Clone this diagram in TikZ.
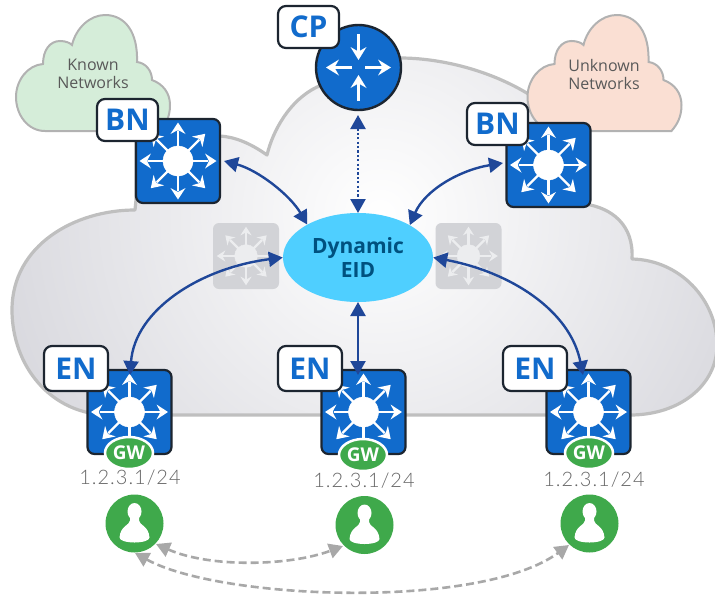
\documentclass[tikz,border=0pt]{standalone}
\usepackage{fontspec}
\setmainfont{Open Sans}
\newfontfamily\ipfont[LetterSpace=5]{Lato Light}
\usetikzlibrary{arrows.meta,shapes.geometric}
\definecolor{swblue}{HTML}{116BCC}
\definecolor{edge}{HTML}{1C2530}
\definecolor{linkblue}{HTML}{1F4799}
\definecolor{gwgreen}{HTML}{3FA94B}
\definecolor{dashgrey}{HTML}{A8A8A8}
\definecolor{fadefill}{RGB}{210,211,215}
\definecolor{fadearrow}{RGB}{236,237,239}
\definecolor{knowncol}{RGB}{213,237,217}
\definecolor{unknowncol}{RGB}{250,223,211}
\definecolor{eidfill}{RGB}{79,207,255}
\definecolor{eidtext}{RGB}{0,81,127}
\definecolor{cloudedge}{RGB}{214,214,220}
\tikzset{
  x=1pt,y=-1pt,
  switchbox/.style={draw=edge,line width=2.2pt,fill=swblue,rounded corners=7pt,minimum size=84pt,inner sep=0pt},
  fadedbox/.style={fill=fadefill,rounded corners=6pt,minimum size=66pt,inner sep=0pt},
  tagbox/.style={draw=edge,line width=2.2pt,fill=white,rounded corners=8pt,inner sep=0pt,text=swblue,font=\fontsize{30}{30}\selectfont\bfseries},
  bluelink/.style={draw=linkblue,line width=2.4pt,{Triangle[length=14pt,width=15pt]}-{Triangle[length=14pt,width=15pt]}},
  greylink/.style={draw=dashgrey,line width=2.6pt,dash pattern=on 8pt off 4pt,{Triangle[length=14pt,width=15pt]}-{Triangle[length=14pt,width=15pt]}},
  cloudtext/.style={text=black!65,align=center,font=\fontsize{16}{18}\selectfont,inner sep=0pt},
  gwnode/.style={draw=white,line width=2.5pt,fill=gwgreen,ellipse,minimum width=48pt,minimum height=32pt,inner sep=0pt,text=white,font=\fontsize{19}{19}\selectfont\bfseries},
  iplabel/.style={text=black!60,font=\fontsize{20}{20}\ipfont,inner sep=0pt},
  usernode/.style={circle,fill=gwgreen,minimum size=58pt,inner sep=0pt},
  switchicon/.pic={
    \fill[pic actions] (0,0) circle (15);
    \foreach \a in {0,45,...,315}{
      \begin{scope}[rotate=\a]
        \draw[pic actions,line width=2.2pt] (0,0) -- (30,0);
        \fill[pic actions,draw=none] (38.5,0) -- (27,-7.5) -- (30.5,-1) -- (30.5,1) -- (27,7.5) -- cycle;
      \end{scope}
    }
  },
  inarrow/.pic={
    \draw[white,line width=2.4pt] (0,0) -- (18,0);
    \fill[white] (26,0) -- (13,-8) -- (17,-1) -- (17,1) -- (13,8) -- cycle;
  },
  smallcloud/.pic={
    \draw[pic actions,line width=2pt,draw=black!30]
      (45,131) .. controls (28,131) and (16,115) .. (16,97)
      .. controls (16,80) and (28,65) .. (43,64)
      .. controls (43,50) and (50,41) .. (60,41)
      .. controls (66,41) and (70,43) .. (72,45)
      .. controls (76,28) and (90,15) .. (105,15)
      .. controls (125,15) and (138,32) .. (137,62)
      .. controls (146,63) and (152,71) .. (152,80)
      .. controls (163,84) and (170,93) .. (170,105)
      .. controls (170,118) and (165,125) .. (160,131) -- cycle;
  },
  personicon/.pic={
    \fill[white] (0,-12) ellipse (7 and 8.5);
    \fill[white] (-4.5,-6) -- (-4.5,-3) .. controls (-5,2) and (-14,2) .. (-15,14)
      .. controls (-15,17) and (-8,19) .. (0,19)
      .. controls (8,19) and (15,17) .. (15,14)
      .. controls (14,2) and (5,2) .. (4.5,-3) -- (4.5,-6) -- cycle;
  }
}
\newcommand{\bigcloudpath}{
  (135,210) .. controls (75,210) and (12,245) .. (12,310)
  .. controls (12,365) and (50,415) .. (110,415) -- (630,415)
  .. controls (680,415) and (717,385) .. (717,345)
  .. controls (717,300) and (680,260) .. (632,259)
  .. controls (634,225) and (612,208) .. (585,204) -- (530,95)
  .. controls (490,70) and (440,58) .. (400,58) -- (317,87)
  .. controls (290,100) and (273,130) .. (267,155)
  .. controls (250,143) and (235,137) .. (220,136) -- (136,136) -- (136,200) -- cycle}
\begin{document}
\begin{tikzpicture}
\useasboundingbox (0,0) rectangle (715,595);
\begin{scope}
\clip (0,0) rectangle (715,595);
\begin{scope}
\clip \bigcloudpath;
\shade[inner color=white,outer color=cloudedge] (380,215) circle (420);
\end{scope}
\draw[draw=black!25,line width=3.2pt,line join=round] \bigcloudpath;
\end{scope}
\pic[fill=knowncol] at (0,0) {smallcloud};
\pic[fill=unknowncol] at (511.5,0) {smallcloud};
\node[cloudtext] (knowntxt) at (93,74) {Known\\Networks};
\node[cloudtext] (unknowntxt) at (604,74) {Unknown\\Networks};

% faded switches
\node[fadedbox] (fa) at (246,256) {};
\pic[fill=fadearrow,draw=fadearrow,scale=.76] at (246,256) {switchicon};
\node[fadedbox] (fb) at (468.5,256) {};
\pic[fill=fadearrow,draw=fadearrow,scale=.76] at (468.5,256) {switchicon};

% CP router
\node[circle,draw=edge,line width=2.4pt,fill=swblue,minimum size=85pt,inner sep=0pt] (cp) at (358.5,67.5) {};
\pic[rotate=0] at (365,67.5) {inarrow};
\pic[rotate=180] at (352,67.5) {inarrow};
\pic[rotate=-90] at (358.5,34) {inarrow};
\pic[rotate=90] at (358.5,101) {inarrow};

% switches
\node[switchbox] (bnl) at (178,161) {};
\pic[fill=white,draw=white] at (178,161) {switchicon};
\node[switchbox] (bnr) at (548.5,165) {};
\pic[fill=white,draw=white] at (548.5,165) {switchicon};
\node[switchbox] (enl) at (129.5,412) {};
\pic[fill=white,draw=white] at (129.5,412) {switchicon};
\node[switchbox] (enm) at (363.5,412) {};
\pic[fill=white,draw=white] at (363.5,412) {switchicon};
\node[switchbox] (enr) at (588.5,412) {};
\pic[fill=white,draw=white] at (588.5,412) {switchicon};

% EID
\node[ellipse,fill=eidfill,minimum width=150pt,minimum height=89pt,inner sep=0pt,align=center,text=eidtext,font=\fontsize{21}{24}\selectfont\bfseries] (eid) at (358,257.5) {Dynamic\\EID};

% tags
\node[tagbox,minimum width=61pt,minimum height=42pt] (tcp) at (308.5,27) {CP};
\node[tagbox,minimum width=61pt,minimum height=42pt] (tbl) at (127.5,120) {BN};
\node[tagbox,minimum width=61pt,minimum height=42pt] (tbr) at (497.5,124) {BN};
\node[tagbox,minimum width=64pt,minimum height=45pt] (tel) at (76,368.5) {EN};
\node[tagbox,minimum width=64pt,minimum height=45pt] (tem) at (310,368.5) {EN};
\node[tagbox,minimum width=64pt,minimum height=45pt] (ter) at (535,368.5) {EN};

% gateways
\node[gwnode] (gl) at (129,453) {GW};
\node[gwnode] (gm) at (363,455) {GW};
\node[gwnode] (gr) at (589,453) {GW};
\node[iplabel] (il) at (130,478) {1.2.3.1/24};
\node[iplabel] (im) at (364,481) {1.2.3.1/24};
\node[iplabel] (ir) at (594,480) {1.2.3.1/24};

% users
\node[usernode] (ul) at (134.5,523.5) {};
\pic at (134.5,523.5) {personicon};
\node[usernode] (um) at (364.5,525) {};
\pic at (364.5,525) {personicon};
\node[usernode] (ur) at (589.5,523.5) {};
\pic at (589.5,523.5) {personicon};

% links
\coordinate (tipbl) at (224,161);
\coordinate (tipbr) at (503,163);
\coordinate (tipcp) at (358,115);
\coordinate (tipcpe) at (358,213);
\coordinate (tipel) at (130,375);
\coordinate (tipem) at (358,375);
\coordinate (tipem2) at (358,302);
\coordinate (tiper) at (583,375);
\draw[bluelink] (tipbl) .. controls (258,170) and (290,195) .. (eid.147.5);
\draw[bluelink] (tipbr) .. controls (460,170) and (425,190) .. (eid.32);
\draw[bluelink,dash pattern=on 2.2pt off 2.2pt] (tipcp) -- (tipcpe);
\draw[bluelink] (eid.west) .. controls (200,268) and (135,310) .. (tipel);
\draw[bluelink] (tipem2) -- (tipem);
\draw[bluelink] (eid.east) .. controls (510,272) and (570,310) .. (tiper);
\coordinate (gu1) at (156,544);
\coordinate (gu2) at (343,546);
\coordinate (gu3) at (135,553);
\coordinate (gu4) at (569,545);
\draw[greylink] (gu1) .. controls (210,568) and (290,566) .. (gu2);
\draw[greylink] (gu3) .. controls (220,600) and (480,610) .. (gu4);
\end{tikzpicture}
\end{document}
